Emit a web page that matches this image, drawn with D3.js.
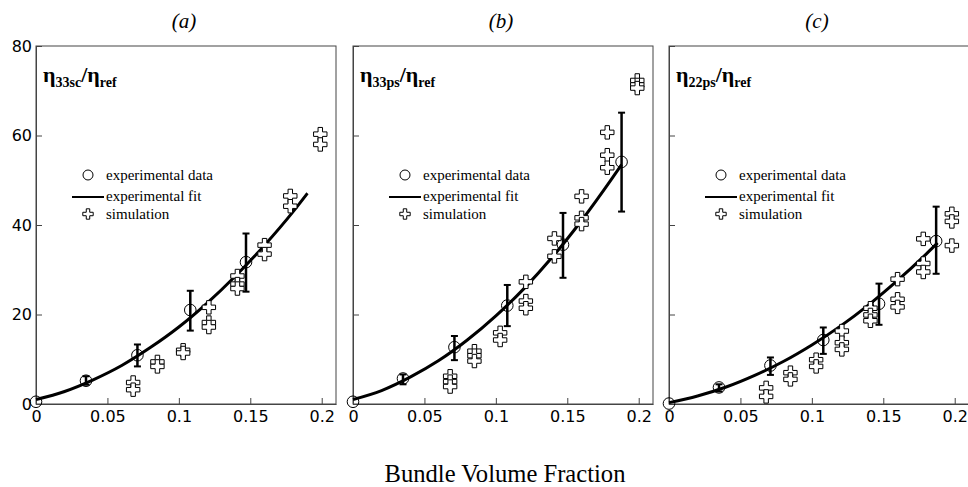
<!DOCTYPE html>
<html><head><meta charset="utf-8">
<script src="https://cdn.jsdelivr.net/npm/d3@7"></script>
<style>body{margin:0;background:#fff} svg{display:block}</style>
</head><body><svg id="c" width="968" height="487"></svg>
<script>
// ---------- data ----------
const xTicks = [0, 0.05, 0.1, 0.15, 0.2];
const xTickLabels = ["0", "0.05", "0.1", "0.15", "0.2"];
const yTicks = [0, 20, 40, 60, 80];
const yTickLabels = ["0", "20", "40", "60", "80"];
const panelTitles = ["(a)", "(b)", "(c)"];
const panelSubs = ["33sc", "33ps", "22ps"];
const legendLabels = ["experimental data", "experimental fit", "simulation"];
const xLabel = "Bundle Volume Fraction";

// experimental data: x, value, lower, upper
const expXA = [0, 0.035, 0.071, 0.108, 0.147];
const expYA = [0.5, 5.2, 10.9, 21.0, 31.7];
const expLoA = [null, 4.3, 8.4, 16.4, 25.1];
const expHiA = [null, 6.2, 13.3, 25.3, 38.1];

const expXB = [0, 0.035, 0.071, 0.108, 0.147, 0.188];
const expYB = [0.5, 5.7, 12.7, 22.0, 35.6, 54.1];
const expLoB = [null, 4.4, 9.8, 17.4, 28.2, 43.0];
const expHiB = [null, 6.6, 15.2, 26.6, 42.7, 65.1];

const expXC = [0, 0.035, 0.071, 0.108, 0.147, 0.187];
const expYC = [0.1, 3.7, 8.6, 14.3, 22.4, 36.4];
const expLoC = [null, 2.8, 6.5, 11.2, 17.7, 29.1];
const expHiC = [null, 4.4, 10.4, 17.1, 26.9, 44.1];

// experimental fit curves
const fitXA = [0, 0.02, 0.04, 0.06, 0.08, 0.10, 0.12, 0.14, 0.16, 0.18, 0.19];
const fitYA = [1.0, 2.8, 5.4, 8.6, 12.6, 17.2, 22.6, 28.7, 35.5, 43.0, 47.1];
const fitXB = [0, 0.02, 0.04, 0.06, 0.08, 0.10, 0.12, 0.14, 0.16, 0.18, 0.188];
const fitYB = [1.0, 3.0, 6.0, 9.7, 14.3, 19.7, 25.9, 33.0, 41.0, 49.8, 53.5];
const fitXC = [0, 0.02, 0.04, 0.06, 0.08, 0.10, 0.12, 0.14, 0.16, 0.18, 0.188];
const fitYC = [0.3, 1.8, 3.8, 6.4, 9.5, 13.2, 17.4, 22.2, 27.6, 33.5, 36.0];

// simulation points [x, value]
const simA = [[0.068,4.8],[0.068,3.2],[0.085,9.4],[0.085,8.4],[0.103,12.0],[0.103,11.4],
  [0.121,21.6],[0.121,18.2],[0.121,17.2],[0.141,28.6],[0.141,26.8],[0.141,25.8],
  [0.16,35.5],[0.16,33.5],[0.178,46.5],[0.178,44.2],[0.199,60.3],[0.199,58.0]];
const simB = [[0.068,6.2],[0.068,5.0],[0.068,3.9],[0.085,11.8],[0.085,10.8],[0.085,9.6],
  [0.103,15.9],[0.103,14.3],[0.121,27.3],[0.121,23.0],[0.121,21.4],[0.141,37.0],[0.141,33.0],
  [0.16,46.4],[0.16,41.6],[0.16,40.2],[0.178,60.7],[0.178,55.6],[0.178,52.8],
  [0.199,72.3],[0.199,71.3],[0.199,70.6]];
const simC = [[0.068,3.6],[0.068,1.7],[0.085,7.0],[0.085,5.5],[0.103,9.9],[0.103,8.4],
  [0.121,16.3],[0.121,13.7],[0.121,12.2],[0.141,21.4],[0.141,19.9],[0.141,18.6],
  [0.16,27.9],[0.16,23.4],[0.16,21.7],[0.178,36.9],[0.178,31.4],[0.178,29.5],
  [0.198,42.5],[0.198,40.8],[0.198,35.4]];

// ---------- layout ----------
const panels = [
  {left: 36,  ex: expXA, ey: expYA, lo: expLoA, hi: expHiA, fx: fitXA, fy: fitYA, sim: simA},
  {left: 353, ex: expXB, ey: expYB, lo: expLoB, hi: expHiB, fx: fitXB, fy: fitYB, sim: simB},
  {left: 669, ex: expXC, ey: expYC, lo: expLoC, hi: expHiC, fx: fitXC, fy: fitYC, sim: simC}
];
const plotTop = 46, plotBottom = 404, pw = 300;
const svg = d3.select("#c");
const y = d3.scaleLinear().domain([0, 80]).range([plotBottom, plotTop]);
const axisColor = "#444";
const serif = "'Liberation Serif','Times New Roman',serif";
const sans = "'DejaVu Sans',Verdana,sans-serif";
const cross = d3.symbol().type(d3.symbolCross);

panels.forEach((p, i) => {
  const x = d3.scaleLinear().domain([0, 0.21]).range([p.left, p.left + pw]);
  const g = svg.append("g");

  // frame
  g.append("rect").attr("x", p.left).attr("y", plotTop).attr("width", pw).attr("height", plotBottom - plotTop)
    .attr("fill", "none").attr("stroke", axisColor).attr("stroke-width", 1);

  // x axis (inside ticks)
  const xa = g.append("g").attr("transform", `translate(0,${plotBottom})`)
    .call(d3.axisBottom(x).tickValues(xTicks).tickSizeInner(-6).tickSizeOuter(0)
      .tickPadding(7).tickFormat((d, k) => xTickLabels[k]));
  xa.select(".domain").attr("stroke", axisColor);
  xa.selectAll(".tick line").attr("stroke", axisColor);
  xa.selectAll("text").attr("font-family", sans).attr("font-size", 16).attr("fill", "#000")
    .attr("dy", "0.71em");

  // y axis (inside ticks)
  const ya = g.append("g").attr("transform", `translate(${p.left},0)`)
    .call(d3.axisLeft(y).tickValues(yTicks).tickSizeInner(-6).tickSizeOuter(0)
      .tickPadding(4).tickFormat((d, k) => i === 0 ? yTickLabels[k] : ""));
  ya.select(".domain").attr("stroke", axisColor);
  ya.selectAll(".tick line").attr("stroke", axisColor);
  ya.selectAll("text").attr("font-family", sans).attr("font-size", 16).attr("fill", "#000");

  // panel title
  svg.append("text").attr("x", p.left + 148).attr("y", 28).attr("text-anchor", "middle")
    .attr("font-family", serif).attr("font-style", "italic").attr("font-size", 21)
    .text(panelTitles[i]);

  // quantity label
  const t = svg.append("text").attr("x", p.left + 7).attr("y", 82)
    .attr("font-family", serif).attr("font-weight", "bold").attr("font-size", 22);
  t.append("tspan").text("η");
  t.append("tspan").attr("font-size", 14).attr("dy", 5).text(panelSubs[i]);
  t.append("tspan").attr("dy", -5).text("/η");
  t.append("tspan").attr("font-size", 14).attr("dy", 5).text("ref");

  // experimental circles
  g.selectAll("circle.exp").data(p.ex.map((v, k) => [v, p.ey[k]])).join("circle")
    .attr("cx", d => x(d[0])).attr("cy", d => y(d[1])).attr("r", 5.8)
    .attr("fill", "none").attr("stroke", "#000").attr("stroke-width", 1);

  // fit line
  const line = d3.line().x(d => x(d[0])).y(d => y(d[1])).curve(d3.curveMonotoneX);
  g.append("path").datum(p.fx.map((v, k) => [v, p.fy[k]])).attr("d", line)
    .attr("fill", "none").attr("stroke", "#000").attr("stroke-width", 3);

  // error bars
  const eb = p.ex.map((v, k) => [v, p.lo[k], p.hi[k]]).filter(d => d[1] !== null);
  eb.forEach(d => {
    const cx = x(d[0]);
    g.append("line").attr("x1", cx).attr("x2", cx).attr("y1", y(d[1])).attr("y2", y(d[2]))
      .attr("stroke", "#000").attr("stroke-width", 2.5);
    [d[1], d[2]].forEach(v => g.append("line").attr("x1", cx - 3.5).attr("x2", cx + 3.5)
      .attr("y1", y(v)).attr("y2", y(v)).attr("stroke", "#000").attr("stroke-width", 2));
  });

  // simulation crosses
  g.selectAll("path.sim").data(p.sim).join("path").attr("class", "sim")
    .attr("transform", d => `translate(${x(d[0])},${y(d[1])})`)
    .attr("d", cross.size(100)())
    .attr("fill", "#fff").attr("stroke", "#000").attr("stroke-width", 1);

  // legend
  const lx = p.left;
  g.append("circle").attr("cx", lx + 52).attr("cy", 175).attr("r", 5)
    .attr("fill", "none").attr("stroke", "#000").attr("stroke-width", 1);
  g.append("line").attr("x1", lx + 36).attr("x2", lx + 68).attr("y1", 197).attr("y2", 197)
    .attr("stroke", "#000").attr("stroke-width", 2);
  g.append("path").attr("transform", `translate(${lx + 52},214)`).attr("d", cross.size(60)())
    .attr("fill", "#fff").attr("stroke", "#000").attr("stroke-width", 1);
  [180, 201, 219].forEach((yy, k) => g.append("text").attr("x", lx + 70).attr("y", yy)
    .attr("font-family", serif).attr("font-size", 15).text(legendLabels[k]));
});

svg.append("text").attr("x", 505).attr("y", 482).attr("text-anchor", "middle")
  .attr("font-family", serif).attr("font-size", 24.6).text(xLabel);
</script></body></html>
